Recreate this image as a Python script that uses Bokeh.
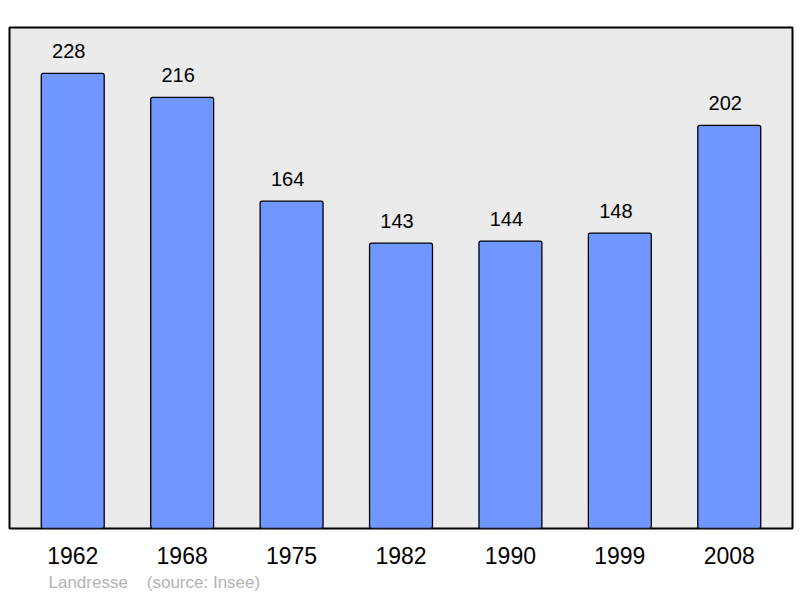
from bokeh.core.properties import value
from bokeh.embed import file_html
from bokeh.models import ColumnDataSource, FixedTicker, Title
from bokeh.plotting import figure
from bokeh.resources import INLINE

years = ["1962", "1968", "1975", "1982", "1990", "1999", "2008"]
population = [228, 216, 164, 143, 144, 148, 202]

FONT = "Liberation Sans"

xs = list(range(len(years)))
source = ColumnDataSource(dict(x=xs, pop=population,
                               label=[str(v) for v in population]))

p = figure(width=800, height=598,
           x_range=(-0.578, 6.578), y_range=(0, 251),
           output_backend="svg", toolbar_location=None, tools="",
           min_border_left=9, min_border_right=8, min_border_top=27,
           min_border_bottom=70)

p.background_fill_color = "#ebebeb"
p.border_fill_color = "white"
p.outline_line_color = "black"
p.outline_line_width = 2
p.grid.visible = False
p.yaxis.visible = False

p.vbar(x="x", top="pop", bottom=0, width=0.575, source=source,
       fill_color="#7097ff", line_color="black", line_width=1.3,
       border_radius=2)

# value labels sit slightly left of the bar centre in the original
p.text(x="x", y="pop", text="label", source=source,
       text_align="center", text_baseline="alphabetic",
       x_offset=-4, y_offset=-22,
       text_font=value(FONT), text_font_size="20px", text_color="black")

xa = p.xaxis[0]
xa.ticker = FixedTicker(ticks=xs)
xa.major_label_overrides = {i: y for i, y in enumerate(years)}
xa.axis_line_color = None
xa.major_tick_line_color = None
xa.minor_tick_line_color = None
xa.major_label_text_font = FONT
xa.major_label_text_font_size = "23px"
xa.major_label_text_color = "black"
xa.major_label_standoff = 12

footer = Title(text="Landresse\u00a0\u00a0\u00a0\u00a0(source: Insee)",
               align="left", offset=39,
               text_font=FONT, text_font_size="17px", text_font_style="normal",
               text_color="#b3b3b3", standoff=9)
p.add_layout(footer, "below")

open("out.html", "w").write(file_html(p, INLINE))
